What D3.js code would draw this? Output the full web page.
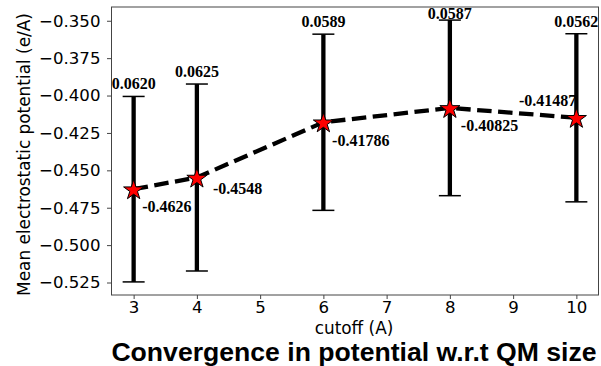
<!DOCTYPE html>
<html><head><meta charset="utf-8">
<script src="https://cdn.jsdelivr.net/npm/d3@7"></script>
<style>body{margin:0;background:#fff}svg{display:block}</style>
</head><body><svg id="c" width="601" height="366"></svg>
<script>
const cutoffs = [3, 4, 6, 8, 10];
const means = [-0.4626, -0.4548, -0.41786, -0.40825, -0.41487];
const errors = [0.0620, 0.0625, 0.0589, 0.0587, 0.0562];
const meanLabels = ["-0.4626", "-0.4548", "-0.41786", "-0.40825", "-0.41487"];
const errLabels = ["0.0620", "0.0625", "0.0589", "0.0587", "0.0562"];
const xTicks = [3, 4, 5, 6, 7, 8, 9, 10];
const yTicks = [-0.350, -0.375, -0.400, -0.425, -0.450, -0.475, -0.500, -0.525];
// label placement offsets (pixels) relative to the point
const meanLabelDx = [8.5, 16, 8.7, 11, 0];
const meanLabelDy = [22.5, 16.5, 24, 23.5, -11.5];
const meanLabelAnchor = ["start", "start", "start", "start", "end"];

const svg = d3.select("#c");
const L = 111.5, R = 598.5, T = 7, B = 295;
const x = d3.scaleLinear().domain([2.65, 10.35]).range([L, R]);
const y = d3.scaleLinear().domain([-0.53335, -0.3408]).range([B, T]);

// axes
const gx = svg.append("g").attr("transform", `translate(0,${B})`)
  .call(d3.axisBottom(x).tickValues(xTicks).tickSize(4).tickPadding(2.6).tickFormat(d3.format("d")));
const gy = svg.append("g").attr("transform", `translate(${L},0)`)
  .call(d3.axisLeft(y).tickValues(yTicks).tickSize(4.5).tickPadding(6.5).tickFormat(d3.format(".3f")));
[gx, gy].forEach(g => {
  g.attr("font-family", null).attr("font-size", null);
  g.select(".domain").remove();
  g.selectAll(".tick line").attr("stroke", "#444").attr("stroke-width", 1);
  g.selectAll(".tick text")
    .style("font-family", "'DejaVu Sans'").style("font-size", "16.6px").attr("fill", "#000");
});

svg.append("rect").attr("x", L).attr("y", T).attr("width", R - L).attr("height", B - T)
  .attr("fill", "none").attr("stroke", "#444").attr("stroke-width", 1);

const data = cutoffs.map((c, i) => ({c, m: means[i], e: errors[i], ml: meanLabels[i], el: errLabels[i], i}));

// error bars
const eb = svg.append("g");
eb.append("g").selectAll("line").data(data).join("line")
  .attr("x1", d => x(d.c)).attr("x2", d => x(d.c))
  .attr("y1", d => y(d.m - d.e)).attr("y2", d => y(d.m + d.e))
  .attr("stroke", "#000").attr("stroke-width", 4.3);
eb.append("g").selectAll("line").data(data).join("line")
  .attr("x1", d => x(d.c) - 11).attr("x2", d => x(d.c) + 11)
  .attr("y1", d => y(d.m + d.e)).attr("y2", d => y(d.m + d.e))
  .attr("stroke", "#000").attr("stroke-width", 1.5);
eb.append("g").selectAll("line").data(data).join("line")
  .attr("x1", d => x(d.c) - 11).attr("x2", d => x(d.c) + 11)
  .attr("y1", d => y(d.m - d.e)).attr("y2", d => y(d.m - d.e))
  .attr("stroke", "#000").attr("stroke-width", 1.5);

// dashed line
svg.append("path").datum(data)
  .attr("d", d3.line().x(d => x(d.c)).y(d => y(d.m)))
  .attr("fill", "none").attr("stroke", "#000").attr("stroke-width", 4.3)
  .attr("stroke-dasharray", "14.5 6.5");

// stars
const star = d3.symbol().type(d3.symbolStar).size(125);
svg.append("g").selectAll("path").data(data).join("path")
  .attr("d", star)
  .attr("transform", d => `translate(${x(d.c)},${y(d.m) + 1})`)
  .attr("fill", "#ff0000").attr("stroke", "#000").attr("stroke-width", 1);

// error labels
svg.append("g").selectAll("text").data(data).join("text")
  .attr("x", d => x(d.c))
  .attr("y", d => Math.max(y(d.m + d.e) - 7, T + 12))
  .attr("text-anchor", "middle")
  .style("font-family", "'Liberation Serif'").style("font-weight", "bold").style("font-size", "16px")
  .text(d => d.el);

// mean labels
svg.append("g").selectAll("text").data(data).join("text")
  .attr("x", d => x(d.c) + meanLabelDx[d.i])
  .attr("y", d => y(d.m) + meanLabelDy[d.i])
  .attr("text-anchor", d => meanLabelAnchor[d.i])
  .style("font-family", "'Liberation Serif'").style("font-weight", "bold").style("font-size", "16px")
  .text(d => d.ml);

// axis labels
svg.append("text").attr("x", 354).attr("y", 334)
  .attr("text-anchor", "middle")
  .style("font-family", "'DejaVu Sans'").style("font-size", "16.9px")
  .text("cutoff (A)");
svg.append("text").attr("transform", `translate(29.5,154.5) rotate(-90)`)
  .attr("text-anchor", "middle")
  .style("font-family", "'DejaVu Sans'").style("font-size", "16.9px")
  .text("Mean electrostatic potential (e/A)");

// title
svg.append("text").attr("x", 354).attr("y", 361)
  .attr("text-anchor", "middle")
  .style("font-family", "'Liberation Sans'").style("font-weight", "bold").style("font-size", "26.6px")
  .text("Convergence in potential w.r.t QM size");
</script></body></html>
